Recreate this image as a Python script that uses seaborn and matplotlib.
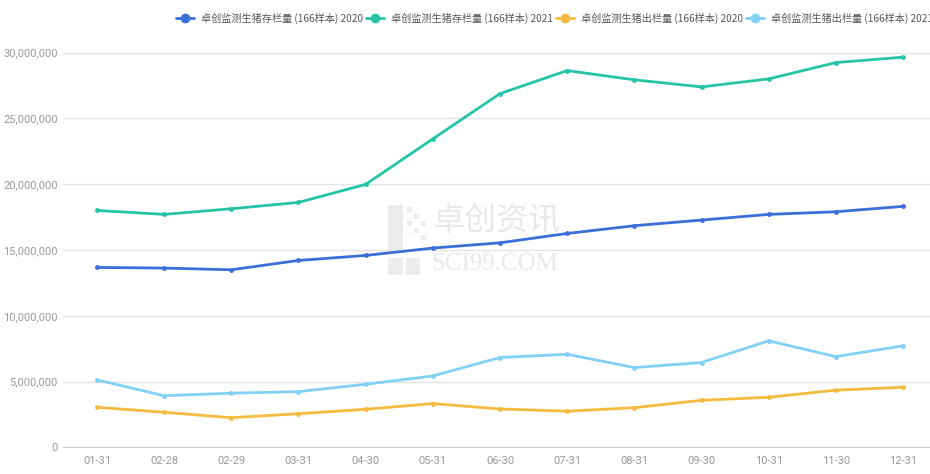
import matplotlib
matplotlib.use("Agg")
import matplotlib.pyplot as plt
import matplotlib.patches as mpatches
from matplotlib.lines import Line2D
from matplotlib.ticker import FuncFormatter, FixedLocator
import pandas as pd
import seaborn as sns

# 数据（单位：头）
dates = ["01-31", "02-28", "02-29", "03-31", "04-30", "05-31", "06-30",
         "07-31", "08-31", "09-30", "10-31", "11-30", "12-31"]
stock_2020 = [13680000, 13630000, 13500000, 14210000, 14590000, 15150000, 15550000,
              16260000, 16850000, 17280000, 17710000, 17910000, 18320000]
stock_2021 = [18010000, 17710000, 18140000, 18620000, 19990000, 23450000, 26890000,
              28640000, 27940000, 27400000, 28010000, 29250000, 29660000]
out_2020 = [3050000, 2670000, 2260000, 2560000, 2900000, 3330000, 2920000,
            2750000, 3020000, 3580000, 3810000, 4350000, 4570000]
out_2021 = [5130000, 3930000, 4120000, 4240000, 4800000, 5430000, 6830000,
            7080000, 6070000, 6450000, 8100000, 6900000, 7720000]

labels = ["卓创监测生猪存栏量 (166样本) 2020", "卓创监测生猪存栏量 (166样本) 2021",
          "卓创监测生猪出栏量 (166样本) 2020", "卓创监测生猪出栏量 (166样本) 2021"]
colors = ["#3a6fd9", "#25c4a6", "#f5bb3e", "#82d0f5"]
series = [stock_2020, stock_2021, out_2020, out_2021]

rows = []
for lab, vals in zip(labels, series):
    for d, v in zip(dates, vals):
        rows.append({"日期": d, "数量": v, "系列": lab})
df = pd.DataFrame(rows)

sns.set_style("white")
plt.rcParams["font.family"] = ["Roboto", "Noto Sans CJK SC", "DejaVu Sans"]

fig = plt.figure(figsize=(9.3, 4.74), dpi=100)
ax = fig.add_axes([63.4 / 930, 26.6 / 474, 873.2 / 930, 394.7 / 474])

# 水印
wm = "#ececec"
def box(x, y, w, h):
    ax.add_patch(mpatches.Rectangle((x / 930, 1 - (y + h) / 474), w / 930, h / 474,
                                    transform=fig.transFigure, color=wm, zorder=0, lw=0))
box(388, 205, 15, 48)
box(388, 258, 15, 17)
box(406, 258, 14, 17)
for sx, sy in [(407, 207), (414, 214), (407, 221), (421, 221), (414, 228), (421, 235)]:
    box(sx, sy, 5, 5)
fig.text(432 / 930, 1 - 221 / 474, "卓创资讯", fontsize=23, color="#e8e8e8",
         family=["Noto Sans CJK SC"], va="center", ha="left", zorder=0)
fig.text(431 / 930, 1 - 264 / 474, "SCI99.COM", fontsize=18, color="#e8e8e8",
         family=["Liberation Serif"], va="center", ha="left", zorder=0)

sns.lineplot(data=df, x="日期", y="数量", hue="系列", palette=colors, ax=ax,
             marker="o", markersize=3.5, markeredgewidth=0, linewidth=2, sort=False,
             legend=False)

ax.set_xlim(-0.5, 12.5)
ax.set_ylim(0, 30000000)
ax.set_yticks(range(0, 30000001, 5000000))
ax.yaxis.set_major_formatter(FuncFormatter(lambda v, p: f"{int(v):,}"))
ax.grid(axis="y", color="#e3e3e3", lw=1)
ax.set_axisbelow(True)
for s in ["top", "right", "left"]:
    ax.spines[s].set_visible(False)
ax.spines["bottom"].set_color("#cccccc")
ax.set_xlabel("")
ax.set_ylabel("")
ax.xaxis.set_minor_locator(FixedLocator([i + 0.5 for i in range(-1, 13)]))
ax.tick_params(axis="x", which="major", length=0, pad=6, labelsize=8, colors="#999999")
ax.tick_params(axis="x", which="minor", length=5, color="#cccccc")
ax.tick_params(axis="y", length=0, pad=4, labelsize=8, colors="#999999")

handles = [Line2D([], [], color=c, lw=2, marker="o", markersize=6) for c in colors]
fig.legend(handles, labels, loc="center left", bbox_to_anchor=(176 / 930, 1 - 18 / 474),
           ncol=4, frameon=False, handlelength=1.8, handletextpad=0.7,
           columnspacing=0.25, borderaxespad=0, borderpad=0, labelcolor="#555555",
           prop={"family": ["Noto Sans CJK SC", "DejaVu Sans"], "size": 7.3})

fig.savefig("out.png", dpi=100)
